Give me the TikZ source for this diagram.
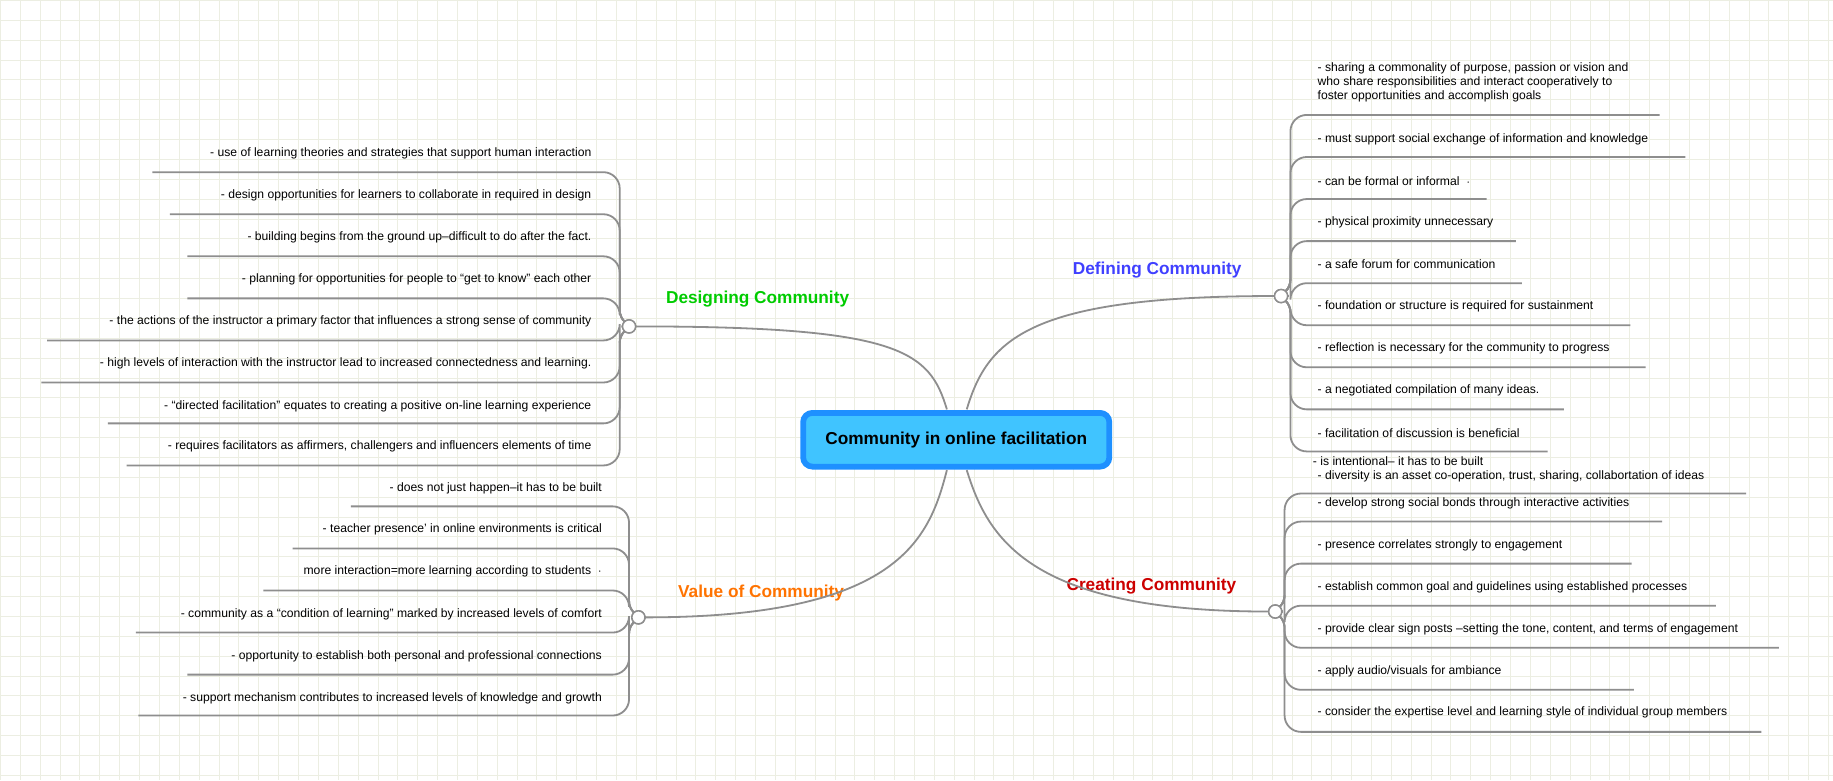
\documentclass[tikz,border=0pt]{standalone}
\usepackage{fontspec}
\setmainfont{Liberation Sans}
\definecolor{gridc}{HTML}{ECEEE2}
\definecolor{linec}{HTML}{8E8E8E}
\definecolor{cfill}{HTML}{40C4FF}
\definecolor{cborder}{HTML}{1E90FF}
\begin{document}
\begin{tikzpicture}[x=0.025cm,y=-0.025cm,
  leaf/.style={font=\fontsize{7.4}{8.6}\selectfont,inner sep=0pt},
  br/.style={draw=linec,line width=1.1pt},
  hub/.style={circle,draw=linec,fill=white,line width=0.9pt,minimum size=0.28cm,inner sep=0pt},
  title/.style={font=\bfseries\fontsize{10.5}{12}\selectfont},
  central/.style={draw=cborder,fill=cfill,line width=3.5pt,rounded corners=0.2cm,
     minimum width=6.55cm,minimum height=1.15cm,font=\bfseries\fontsize{10.5}{12}\selectfont}]
\fill[white] (0,0) rectangle (1568,667);
\draw[gridc,line width=0.5pt,step=0.425cm] (0,0) grid (1568,667);
\useasboundingbox (0,0) rectangle (1568,667);

\node[central] (C) at (818,376) {Community in online facilitation};

% hubs
\node[hub] (D) at (1096,253) {};
\node[hub] (G) at (538,279) {};
\node[hub] (V) at (546,528) {};
\node[hub] (R) at (1091,523) {};

\node[title,text=blue!80!black,text=blue!75] (Dt) at (990,231) {Defining Community};
\node[title,text=green!80!black] (Gt) at (648,256) {Designing Community};
\node[title,text=orange!90!red] (Vt) at (651,507) {Value of Community};
\node[title,text=red!80!black] (Rt) at (985,501) {Creating Community};

% central connectors
\draw[br] (D.west) .. controls (880,253) and (845,290) .. (827,350);
\draw[br] (G.east) .. controls (770,279) and (795,300) .. (810,350);
\draw[br] (V.east) .. controls (770,528) and (795,460) .. (810,402);
\draw[br] (R.west) .. controls (880,523) and (845,460) .. (827,402);

% Defining leaves
\node[leaf,anchor=west,align=left] (d1) at (1127,70) {- sharing a commonality of purpose, passion or vision and\\who share responsibilities and interact cooperatively to\\foster opportunities and accomplish goals};
\coordinate (de1) at (1420,98);
\draw[br,rounded corners=0.35cm] (D.east) -- (1104,253) |- (de1);
\foreach \i/\yt/\yu/\xe/\t in {2/119/134/1442/{- must support social exchange of information and knowledge},
  3/155/170/1272/{- can be formal or informal~~$\cdot$},
  4/190/206/1297/{- physical proximity unnecessary},
  5/226/242/1302/{- a safe forum for communication},
  6/262/278/1395/{- foundation or structure is required for sustainment},
  7/298/314/1408/{- reflection is necessary for the community to progress},
  8/334/350/1338/{- a negotiated compilation of many ideas.},
  9/370/386/1324/{- facilitation of discussion is beneficial}}{
  \node[leaf,anchor=west] (d\i) at (1127,\yt) {\t};
  \coordinate (de\i) at (\xe,\yu);
  \draw[br,rounded corners=0.35cm] (D.east) -- (1104,253) |- (de\i);
}

% Creating leaves
\node[leaf,anchor=west] (r1) at (1123,394) {- is intentional-- it has to be built};
\node[leaf,anchor=west] (r1b) at (1127,407) {- diversity is an asset co-operation, trust, sharing, collabortation of ideas};
\coordinate (re1) at (1494,422);
\draw[br,rounded corners=0.35cm] (R.east) -- (1099,523) |- (re1);
\foreach \i/\yt/\yu/\xe/\t in {2/430/446/1422/{- develop strong social bonds through interactive activities},
  3/466/482/1396/{- presence correlates strongly to engagement},
  4/502/518/1468/{- establish common goal and guidelines using established processes},
  5/538/554/1522/{- provide clear sign posts --setting the tone, content, and terms of engagement},
  6/574/590/1398/{- apply audio/visuals for ambiance},
  7/609/626/1507/{- consider the expertise level and learning style of individual group members}}{
  \node[leaf,anchor=west] (r\i) at (1127,\yt) {\t};
  \coordinate (re\i) at (\xe,\yu);
  \draw[br,rounded corners=0.35cm] (R.east) -- (1099,523) |- (re\i);
}

% Designing leaves
\foreach \i/\yt/\yu/\xs/\t in {1/131/147/130/{- use of learning theories and strategies that support human interaction},
  2/167/183/145/{- design opportunities for learners to collaborate in required in design},
  3/203/219/160/{- building begins from the ground up--difficult to do after the fact.},
  4/239/255/160/{- planning for opportunities for people to ``get to know'' each other},
  5/275/291/40/{- the actions of the instructor a primary factor that influences a strong sense of community},
  6/311/327/35/{- high levels of interaction with the instructor lead to increased connectedness and learning.},
  7/347/362/92/{- ``directed facilitation'' equates to creating a positive on-line learning experience},
  8/382/398/108/{- requires facilitators as affirmers, challengers and influencers elements of time}}{
  \node[leaf,anchor=east] (g\i) at (506,\yt) {\t};
  \coordinate (ge\i) at (\xs,\yu);
  \draw[br,rounded corners=0.35cm] (G.west) -- (530,279) |- (ge\i);
}

% Value leaves
\foreach \i/\yt/\yu/\xs/\t in {1/418/433/300/{- does not just happen--it has to be built},
  2/453/469/250/{- teacher presence' in online environments is critical},
  3/489/505/225/{more interaction=more learning according to students~~$\cdot$},
  4/525/541/116/{- community as a ``condition of learning'' marked by increased levels of comfort},
  5/561/577/160/{- opportunity to establish both personal and professional connections},
  6/597/612/118/{- support mechanism contributes to increased levels of knowledge and growth}}{
  \node[leaf,anchor=east] (v\i) at (515,\yt) {\t};
  \coordinate (ve\i) at (\xs,\yu);
  \draw[br,rounded corners=0.35cm] (V.west) -- (538,528) |- (ve\i);
}
\node[hub] at (D) {};
\node[hub] at (G) {};
\node[hub] at (V) {};
\node[hub] at (R) {};
\end{tikzpicture}
\end{document}
